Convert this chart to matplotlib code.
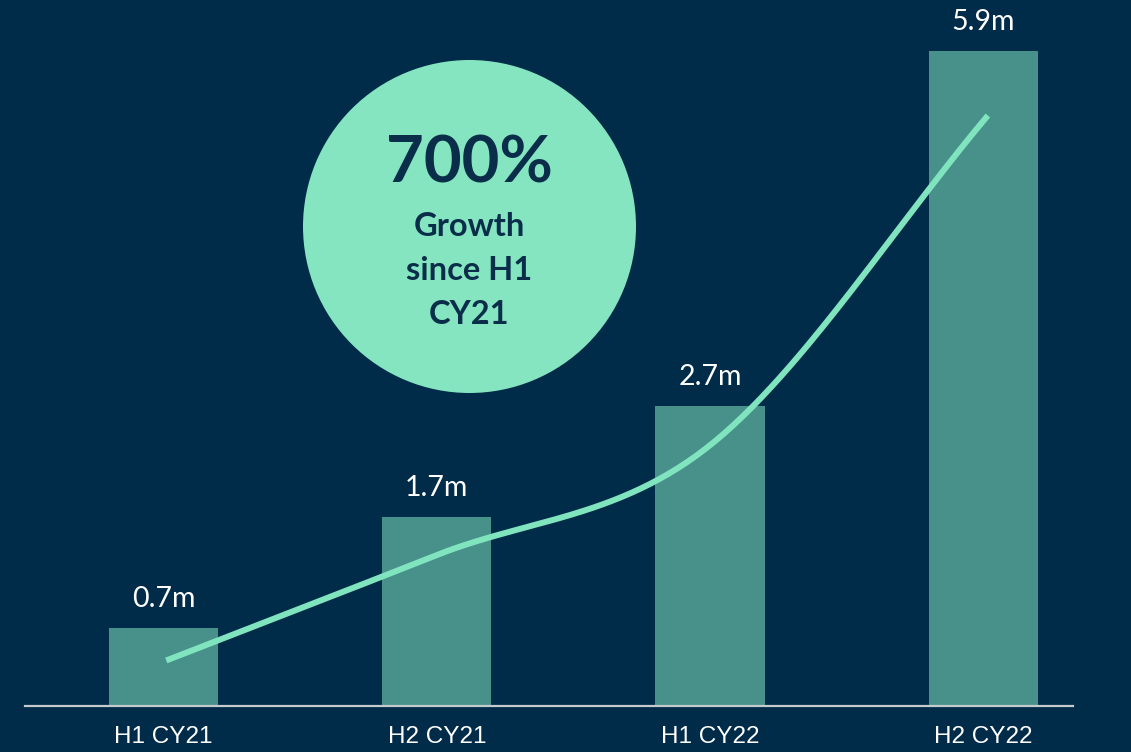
import matplotlib
matplotlib.use("Agg")
import matplotlib.pyplot as plt
from matplotlib.patches import Ellipse
import numpy as np

categories = ["H1 CY21", "H2 CY21", "H1 CY22", "H2 CY22"]
bar_values = [0.7, 1.7, 2.7, 5.9]
bar_labels = ["0.7m", "1.7m", "2.7m", "5.9m"]
trend_values = [0.41, 1.36, 2.35, 5.32]
badge_big = "700%"
badge_lines = ["Growth", "since H1", "CY21"]

BG = "#002B49"
BAR = "#48918A"
MINT = "#80E5BF"
NAVY = "#0A2E4A"

W, H = 1131, 752
fig = plt.figure(figsize=(W / 100, H / 100), dpi=100, facecolor=BG)
ax = fig.add_axes([0, 0, 1, 1])
ax.set_facecolor(BG)

spacing = 273.33
x0 = 163.5
ppu = 111.0
base = 46.0
ax.set_xlim(-x0 / spacing, (W - x0) / spacing)
ax.set_ylim(-base / ppu, (H - base) / ppu)
ax.axis("off")

x = np.arange(len(categories))
ax.bar(x, bar_values, width=0.4, color=BAR, zorder=2)

for xi, v, lab in zip(x, bar_values, bar_labels):
    ax.annotate(lab, (xi, v), xytext=(0, 29), textcoords="offset pixels",
                ha="center", va="center", color="white", fontsize=20.5,
                family="Lato", zorder=5)

# baseline axis line
ax.axhline(0, xmin=25 / W, xmax=1073 / W, color="#C5CACD", lw=1.6, zorder=3)

for xi, c in zip(x, categories):
    ax.annotate(c, (xi, 0), xytext=(0, -31), textcoords="offset pixels",
                ha="center", va="center", color="white", fontsize=17.5,
                family="Liberation Sans", zorder=5)

# smooth trend line (Catmull-Rom through trend points)
def catmull_rom(px, py, n=60):
    P = np.column_stack([px, py]).astype(float)
    P = np.vstack([P[0] - (P[1] - P[0]), P, P[-1] + (P[-1] - P[-2])])
    out = []
    for i in range(1, len(P) - 2):
        p0, p1, p2, p3 = P[i - 1], P[i], P[i + 1], P[i + 2]
        c1 = p1 + (p2 - p0) / 6
        c2 = p2 - (p3 - p1) / 6
        t = np.linspace(0, 1, n)[:, None]
        seg = ((1 - t) ** 3) * p1 + 3 * ((1 - t) ** 2) * t * c1 + 3 * (1 - t) * t ** 2 * c2 + t ** 3 * p2
        out.append(seg if i == 1 else seg[1:])
    return np.vstack(out)

curve = catmull_rom(x + np.array([0.01, 0, 0, 0.016]), trend_values)
ax.plot(curve[:, 0], curve[:, 1], color=MINT, lw=4.3, solid_capstyle="butt", zorder=4)

# badge circle
cx, cy, r = 469.5, 226.5, 166.5
circ = Ellipse((cx / W, 1 - cy / H), 2 * r / W, 2 * r / H, transform=ax.transAxes,
               facecolor="#84E5C0", edgecolor="none", zorder=6)
ax.add_patch(circ)
ax.text(cx / W, 1 - 164 / H, badge_big, transform=ax.transAxes, ha="center", va="center",
        fontsize=47, fontweight="bold", family="Lato", color=NAVY, zorder=7)
for yy, line in zip([226, 270, 314], badge_lines):
    ax.text(cx / W, 1 - yy / H, line, transform=ax.transAxes, ha="center", va="center",
            fontsize=23.5, fontweight="bold", family="Lato", color=NAVY, zorder=7)

fig.savefig("out.png", dpi=100, facecolor=BG)
